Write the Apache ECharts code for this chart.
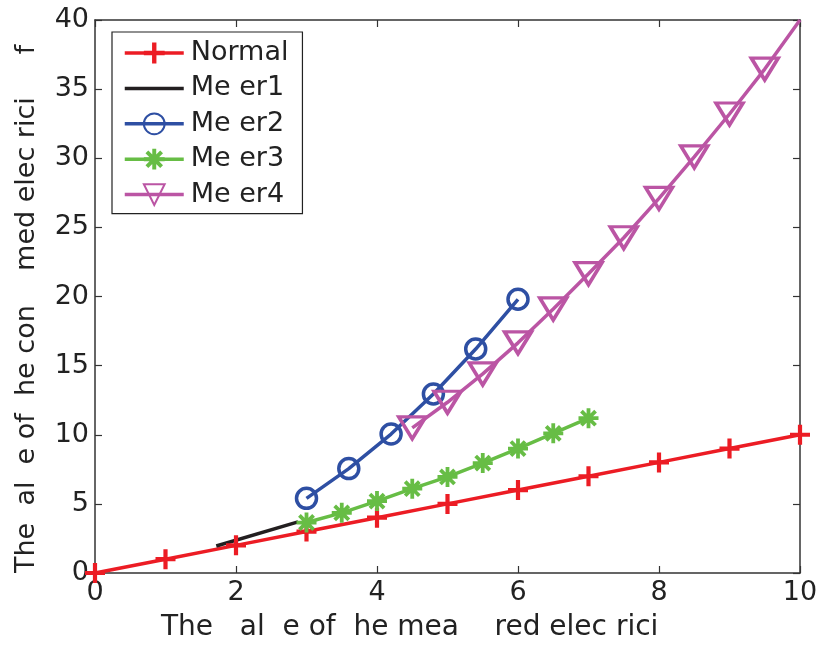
<!DOCTYPE html>
<html>
<head>
<meta charset="utf-8">
<script src="https://cdn.jsdelivr.net/npm/echarts@6/dist/echarts.min.js"></script>
<style>
html,body{margin:0;padding:0;background:#fff;}
#chart{width:822px;height:646px;}
</style>
</head>
<body>
<div id="chart"></div>
<script>
// ---- data ----
var seriesNames = ['Normal', 'Me er1', 'Me er2', 'Me er3', 'Me er4'];
var xTicks = [0, 2, 4, 6, 8, 10];
var yTicks = [0, 5, 10, 15, 20, 25, 30, 35, 40];

var normalX = [0, 1, 2, 3, 4, 5, 6, 7, 8, 9, 10];
var normalY = [0, 1, 2, 3, 4, 5, 6, 7, 8, 9, 10];

var meter1X = [1.72, 2.88];
var meter1Y = [1.95, 3.7];

var meter2X = [3, 3.6, 4.2, 4.8, 5.4, 6];
var meter2Y = [5.4, 7.55, 10.05, 12.95, 16.2, 19.8];

var meter3X = [3, 3.5, 4, 4.5, 5, 5.5, 6, 6.5, 7];
var meter3Y = [3.65, 4.35, 5.2, 6.1, 6.95, 7.95, 9.0, 10.1, 11.2];

var meter4X = [4.5, 5, 5.5, 6, 6.5, 7, 7.5, 8, 8.5, 9, 9.5, 10];
var meter4Y = [10.5, 12.35, 14.4, 16.65, 19.1, 21.65, 24.25, 27.1, 30.1, 33.2, 36.45, 40];

var xTitle = 'The   al  e of  he mea    red elec rici';
var yTitle = 'The  al  e of  he con    med elec rici     f';

// ---- helpers ----
function pairs(xs, ys) { return xs.map(function (x, i) { return [x, ys[i]]; }); }

var FONT = 'DejaVu Sans';
var plusPath = 'path://M-2.1,-10 L2.1,-10 L2.1,-2.1 L10,-2.1 L10,2.1 L2.1,2.1 L2.1,10 L-2.1,10 L-2.1,2.1 L-10,2.1 L-10,-2.1 L-2.1,-2.1 Z';
var starPath = 'path://M-1.9,-10 L1.9,-10 L1.9,10 L-1.9,10 Z ' +
  'M-10,-1.9 L10,-1.9 L10,1.9 L-10,1.9 Z ' +
  'M5.73,8.42 L-8.42,-5.73 L-5.73,-8.42 L8.42,5.73 Z ' +
  'M8.42,-5.73 L-5.73,8.42 L-8.42,5.73 L5.73,-8.42 Z';

var cRed = '#ec1c24', cBlack = '#231f20', cBlue = '#2e4fa3', cGreen = '#67bd45', cMag = '#bb55a4';

var m4data = pairs(meter4X, meter4Y).map(function (p, i) {
  return i === meter4X.length - 1 ? { value: p, symbol: 'none' } : p;
});

var axisLine = { show: true, onZero: false, lineStyle: { color: '#333', width: 1.5 } };
var tick = { show: true, inside: true, length: 7, lineStyle: { color: '#333', width: 1.2 } };

var chart = echarts.init(document.getElementById('chart'), null, { renderer: 'canvas' });
chart.setOption({
  animation: false,
  backgroundColor: '#fff',
  grid: { left: 95, right: 22, top: 20, bottom: 73, show: false },
  legend: {
    orient: 'vertical',
    left: 112, top: 32,
    padding: [6, 14, 4, 11],
    borderColor: '#222', borderWidth: 1.2,
    backgroundColor: '#fff',
    itemWidth: 59, itemHeight: 26, itemGap: 5.4,
    lineStyle: { width: 3.5 },
    textStyle: { fontFamily: FONT, fontSize: 27, color: '#222', lineHeight: 30, padding: [0, 0, 0, 2] },
    data: [
      { name: seriesNames[0] },
      { name: seriesNames[1], itemStyle: { color: 'rgba(0,0,0,0)', borderColor: 'rgba(0,0,0,0)' } },
      { name: seriesNames[2] },
      { name: seriesNames[3] },
      { name: seriesNames[4] }
    ]
  },
  xAxis: [{
    type: 'value', min: xTicks[0], max: xTicks[xTicks.length - 1], interval: 2,
    axisLine: axisLine, axisTick: tick, splitLine: { show: false },
    axisLabel: { fontFamily: FONT, fontSize: 27, color: '#222', margin: 6 }
  }, {
    type: 'value', position: 'top', min: xTicks[0], max: xTicks[xTicks.length - 1], interval: 2,
    axisLine: axisLine, axisTick: tick, splitLine: { show: false }, axisLabel: { show: false }
  }],
  yAxis: [{
    type: 'value', min: yTicks[0], max: yTicks[yTicks.length - 1], interval: 5,
    axisLine: axisLine, axisTick: tick, splitLine: { show: false },
    axisLabel: { fontFamily: FONT, fontSize: 27, color: '#222', margin: 6 }
  }, {
    type: 'value', position: 'right', min: yTicks[0], max: yTicks[yTicks.length - 1], interval: 5,
    axisLine: axisLine, axisTick: tick, splitLine: { show: false }, axisLabel: { show: false }
  }],
  graphic: [
    { type: 'text', x: 161, y: 628, style: { text: xTitle, font: '28px "' + FONT + '"', fill: '#222', textAlign: 'left', textVerticalAlign: 'middle' } },
    { type: 'text', x: 27, y: 573, rotation: Math.PI / 2, style: { text: yTitle, font: '27px "' + FONT + '"', fill: '#222', textAlign: 'left', textVerticalAlign: 'middle' } }
  ],
  series: [
    {
      name: seriesNames[0], type: 'line', data: pairs(normalX, normalY),
      symbol: plusPath, symbolSize: 20, showAllSymbol: true, clip: false,
      lineStyle: { color: cRed, width: 3.5 }, itemStyle: { color: cRed },
      emphasis: { disabled: true }
    },
    {
      name: seriesNames[1], type: 'line', data: pairs(meter1X, meter1Y),
      symbol: 'none',
      lineStyle: { color: cBlack, width: 3.5 }, itemStyle: { color: cBlack },
      emphasis: { disabled: true }
    },
    {
      name: seriesNames[2], type: 'line', data: pairs(meter2X, meter2Y),
      symbol: 'circle', symbolSize: 20, showAllSymbol: true,
      lineStyle: { color: cBlue, width: 3.5 },
      itemStyle: { color: 'rgba(0,0,0,0)', borderColor: cBlue, borderWidth: 3.5 },
      emphasis: { disabled: true }
    },
    {
      name: seriesNames[3], type: 'line', data: pairs(meter3X, meter3Y),
      symbol: starPath, symbolSize: 20, showAllSymbol: true,
      lineStyle: { color: cGreen, width: 3.5 }, itemStyle: { color: cGreen },
      emphasis: { disabled: true }
    },
    {
      name: seriesNames[4], type: 'line', data: m4data,
      symbol: 'triangle', symbolRotate: 180, symbolSize: [27, 22], showAllSymbol: true, clip: false,
      lineStyle: { color: cMag, width: 3.5 },
      itemStyle: { color: 'rgba(0,0,0,0)', borderColor: cMag, borderWidth: 3.5 },
      emphasis: { disabled: true }
    }
  ]
});
</script>
</body>
</html>
